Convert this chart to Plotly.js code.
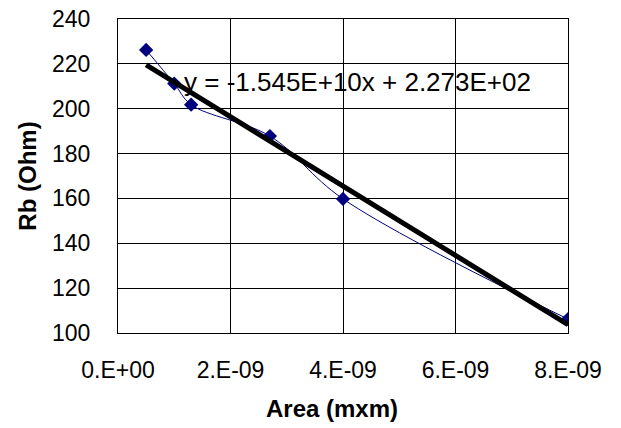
<!DOCTYPE html>
<html>
<head>
<meta charset="utf-8">
<script src="https://cdn.plot.ly/plotly-3.0.1.min.js"></script>
<style>html,body{margin:0;padding:0;background:#fff;}#chart{width:621px;height:428px;}</style>
</head>
<body>
<div id="chart"></div>
<script>
// Data
var areaValues = [5e-10, 1e-9, 1.3e-9, 2.7e-9, 4e-9, 8e-9];
var rbValues = [226.2, 211.2, 201.8, 187.8, 159.8, 106.2];
// Linear trendline (from the chart's equation label)
var trendSlope = -1.545e10;
var trendIntercept = 227.3;
var trendLabel = "y = -1.545E+10x + 2.273E+02";
var xTickVals = [0, 2e-9, 4e-9, 6e-9, 8e-9];
var xTickText = ["0.E+00", "2.E-09", "4.E-09", "6.E-09", "8.E-09"];
var yTickVals = [100, 120, 140, 160, 180, 200, 220, 240];
var xTitle = "Area (mxm)";
var yTitle = "Rb (Ohm)";

var xMin = Math.min.apply(null, areaValues);
var xMax = Math.max.apply(null, areaValues);
var trendX = [xMin, xMax];
var trendY = trendX.map(function (x) { return trendSlope * x + trendIntercept; });

var FONT = "Arial, 'Liberation Sans', sans-serif";

var data = [
  {
    x: areaValues, y: rbValues, type: 'scatter', mode: 'lines+markers',
    line: {color: '#000080', width: 1, shape: 'spline', smoothing: 1},
    marker: {symbol: 'diamond', size: 11, color: '#000080'},
    hoverinfo: 'skip', showlegend: false
  },
  {
    x: trendX, y: trendY, type: 'scatter', mode: 'lines',
    line: {color: '#000000', width: 5},
    hoverinfo: 'skip', showlegend: false
  }
];

var layout = {
  width: 621, height: 428,
  margin: {l: 118, r: 53, t: 19, b: 95, pad: 0},
  paper_bgcolor: '#ffffff', plot_bgcolor: '#ffffff',
  font: {family: FONT, color: '#000000', size: 23},
  showlegend: false,
  xaxis: {
    range: [0, 8e-9], tickvals: xTickVals, ticktext: xTickText,
    showgrid: true, gridcolor: '#000000', gridwidth: 1,
    zeroline: false, showline: true, linecolor: '#000000', linewidth: 1, mirror: true,
    ticks: '', ticklabelstandoff: 16,
    tickfont: {family: FONT, size: 23, color: '#000000'}
  },
  yaxis: {
    range: [100, 240], tickvals: yTickVals,
    showgrid: true, gridcolor: '#000000', gridwidth: 1,
    zeroline: false, showline: true, linecolor: '#000000', linewidth: 1, mirror: true,
    ticks: '', ticklabelstandoff: 22,
    tickfont: {family: FONT, size: 23, color: '#000000'}
  },
  annotations: [
    {
      text: trendLabel, xref: 'paper', yref: 'paper', x: 0.533, y: 0.80,
      xanchor: 'center', yanchor: 'middle', showarrow: false,
      font: {family: FONT, size: 26, color: '#000000'}
    },
    {
      text: '<b>' + xTitle + '</b>', xref: 'paper', yref: 'paper', x: 0.475, y: -0.24,
      xanchor: 'center', yanchor: 'middle', showarrow: false,
      font: {family: FONT, size: 24, color: '#000000'}
    },
    {
      text: '<b>' + yTitle + '</b>', xref: 'paper', yref: 'paper', x: -0.203, y: 0.50,
      xanchor: 'center', yanchor: 'middle', showarrow: false, textangle: -90,
      font: {family: FONT, size: 24, color: '#000000'}
    }
  ]
};

Plotly.newPlot('chart', data, layout, {staticPlot: true, displayModeBar: false});
</script>
</body>
</html>
